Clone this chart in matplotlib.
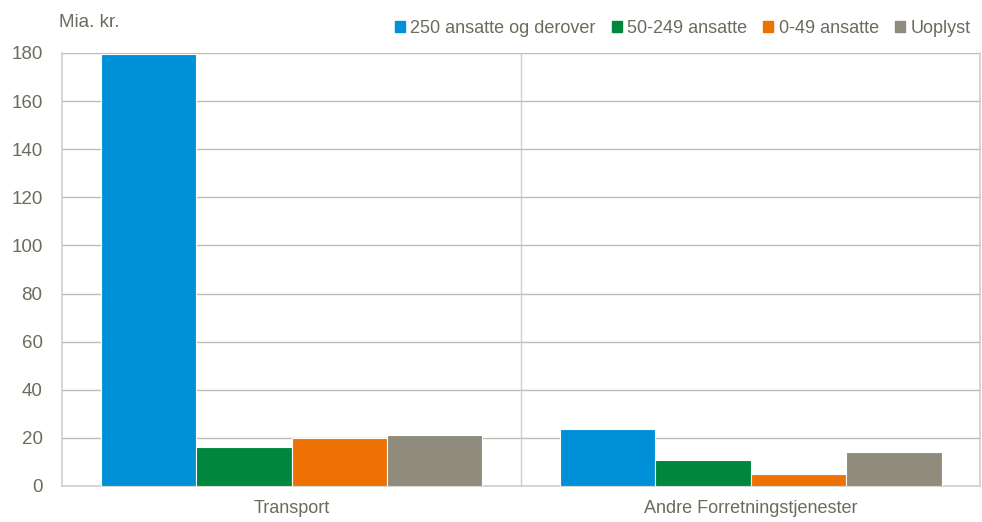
import numpy as np
import matplotlib.pyplot as plt
from matplotlib.patches import Patch

# data
categories = ["Transport", "Andre Forretningstjenester"]
series = ["250 ansatte og derover", "50-249 ansatte", "0-49 ansatte", "Uoplyst"]
values = [
    [179.5, 23.7],  # 250+
    [16.2, 10.8],   # 50-249
    [20.0, 5.0],    # 0-49
    [21.2, 14.1],   # Uoplyst
]
colors = ["#0090D8", "#00873D", "#EE7203", "#8F8C7D"]

text_col = "#6B6B5E"
grid_col = "#BDBDB5"
fs = 13.5

plt.rcParams["font.family"] = ["Liberation Sans", "DejaVu Sans"]

fig = plt.figure(figsize=(9.82, 5.22), dpi=100)
ax = fig.add_axes([0.0631, 0.069, 0.935, 0.8295])

x = np.arange(len(categories))
w = 0.208
for i, (s, v, c) in enumerate(zip(series, values, colors)):
    ax.bar(x + (i - 1.5) * w, v, width=w, color=c, edgecolor="white",
           linewidth=0.8, label=s, zorder=3)

ax.set_xlim(-0.5, 1.5)
ax.set_ylim(0, 180)
ax.set_yticks(range(0, 181, 20))
ax.set_xticks(x)
ax.set_xticklabels(categories)
ax.tick_params(axis="both", length=0, colors=text_col, labelsize=fs)
ax.tick_params(axis="x", pad=10, labelsize=13)
ax.tick_params(axis="y", pad=14)
for lab in ax.get_xticklabels() + ax.get_yticklabels():
    lab.set_color(text_col)

ax.yaxis.grid(True, color=grid_col, linewidth=1, zorder=0)
ax.axvline(0.5, color="#D0D0C8", linewidth=1, zorder=1)
for side in ["left", "bottom", "right"]:
    ax.spines[side].set_color("#D0D0C8")
    ax.spines[side].set_linewidth(1.2)
ax.spines["top"].set_visible(False)

fig.text(0.06, 0.957, "Mia. kr.", color=text_col, fontsize=fs, ha="left", va="center")

handles = [Patch(color=c, label=s) for s, c in zip(series, colors)]
fig.legend(handles=handles, loc="center right", bbox_to_anchor=(1.005, 0.946),
           ncol=4, frameon=False, fontsize=13, handlelength=0.55, handleheight=0.55,
           handletextpad=0.3, columnspacing=0.9, labelcolor=text_col)

fig.savefig("out.png", dpi=100)
